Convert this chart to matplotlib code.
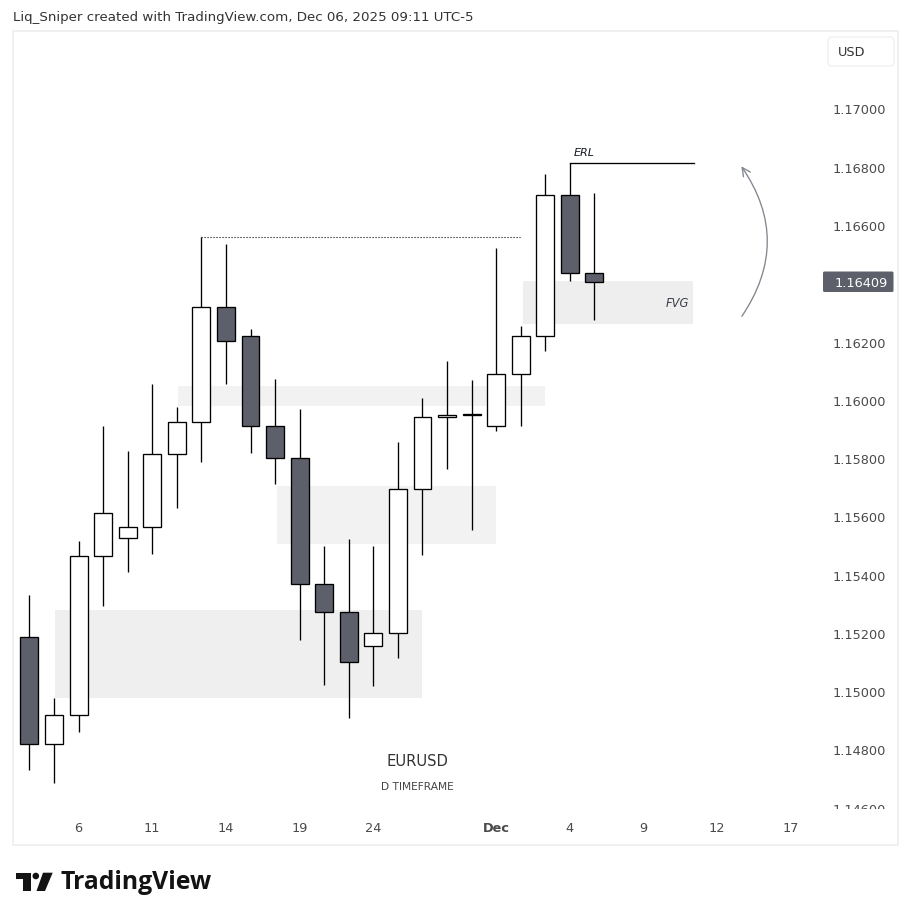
import numpy as np
import matplotlib
matplotlib.use('Agg')
import matplotlib.pyplot as plt
from matplotlib.patches import Rectangle, FancyBboxPatch, FancyArrowPatch, Polygon, Circle
from matplotlib.transforms import Bbox, ScaledTranslation

### candle data (one per day, index = position on the axis)
opens = [1.15192, 1.14823, 1.14924, 1.15470, 1.15532, 1.15569, 1.15820, 1.15930,
         1.16325, 1.16225, 1.15916, 1.15806, 1.15374, 1.15277, 1.15161, 1.15205,
         1.15700, 1.15947, 1.15953, 1.15916, 1.16095, 1.16225, 1.16709, 1.16441]
closes = [1.14823, 1.14924, 1.15470, 1.15617, 1.15569, 1.15820, 1.15930, 1.16325,
          1.16208, 1.15916, 1.15806, 1.15374, 1.15277, 1.15106, 1.15205, 1.15700,
          1.15947, 1.15954, 1.15957, 1.16095, 1.16225, 1.16709, 1.16441, 1.16409]
highs = [1.15336, 1.14980, 1.15522, 1.15914, 1.15831, 1.16061, 1.15979, 1.16563,
         1.16539, 1.16247, 1.16078, 1.15975, 1.15502, 1.15526, 1.15505, 1.15862,
         1.16010, 1.16137, 1.16075, 1.16528, 1.16260, 1.16779, 1.16819, 1.16717]
lows = [1.14734, 1.14689, 1.14864, 1.15297, 1.15413, 1.15475, 1.15633, 1.15791,
        1.16061, 1.15822, 1.15716, 1.15180, 1.15025, 1.14912, 1.15022, 1.15118,
        1.15472, 1.15767, 1.15558, 1.15898, 1.15915, 1.16172, 1.16413, 1.16281]

price_ticks = [1.146, 1.148, 1.150, 1.152, 1.154, 1.156, 1.158, 1.160, 1.162, 1.166, 1.168, 1.170]
date_pos = [2, 5, 8, 11, 14, 19, 22, 25, 28, 31]
date_labels = ['6', '11', '14', '19', '24', 'Dec', '4', '9', '12', '17']
last_price = 1.16409

# x0, x1, y0, y1, colour
zones = [(1.05, 15.98, 1.14983, 1.15285, '#efefef'),
         (10.08, 18.99, 1.15510, 1.15708, '#f2f2f2'),
         (6.05, 20.99, 1.15983, 1.16054, '#f2f2f2'),
         (20.09, 27.0, 1.16265, 1.16412, '#eeeeee')]

DARK = '#5d606b'
W, H = 912, 912

fig = plt.figure(figsize=(W/100, H/100), dpi=100, facecolor='white')
# main pane, placed in pixels
ax = fig.add_axes([14.1/W, (H-811)/H, 812/W, 777.5/H])
ov = fig.add_axes([0, 0, 1, 1], zorder=-1)   # page furniture in pixel coords
ov.set_xlim(0, W)
ov.set_ylim(H, 0)
ov.axis('off')
ax.patch.set_visible(False)

### zones
for x0, x1, y0, y1, c in zones:
    ax.add_patch(Rectangle((x0, y0), x1-x0, y1-y0, fc=c, ec='none', zorder=1))

### candles
x = np.arange(len(opens))
o = np.array(opens)
c = np.array(closes)
ax.vlines(x, lows, highs, color='black', lw=0.95, zorder=2)
body_cols = ['white' if cl >= op else DARK for op, cl in zip(opens, closes)]
ax.bar(x, np.abs(c-o), bottom=np.minimum(o, c), width=0.73, color=body_cols,
       edgecolor='black', linewidth=0.95, zorder=3)

### drawings
ax.plot([7, 19.97], [highs[7], highs[7]], color='black', lw=0.8, ls=(0, (1, 1.7)), zorder=2)
ax.plot([22, 27.04], [highs[22], highs[22]], color='black', lw=0.95, zorder=2)
ax.add_patch(FancyArrowPatch((29.0, 1.16292), (28.98, 1.16807), connectionstyle='arc3,rad=0.34',
                             arrowstyle='->,head_length=6,head_width=3', color='#84868f', lw=0.95,
                             shrinkA=0, shrinkB=0, zorder=2))
ax.text(22.17, 1.16855, 'ERL', style='italic', fontsize=8, color='#131722', va='center')
ax.text(26.84, 1.16340, 'FVG', style='italic', fontsize=8.3, color='#3c3f48', va='center', ha='right')
ax.text(15.78, 1.14768, 'EURUSD', fontsize=10.6, color='#333333', va='center', ha='center')
ax.text(15.78, 1.14678, 'D TIMEFRAME', fontsize=7.7, color='#444444', va='center', ha='center')

### axes
ax.set_xlim(-0.623, 32.43)
ax.set_ylim(1.14597, 1.172664)
for s in ax.spines.values():
    s.set_visible(False)
ax.yaxis.tick_right()
ax.set_yticks(price_ticks)
ax.set_yticklabels(['%.5f' % p for p in price_ticks])
ax.set_xticks(date_pos)
ax.set_xticklabels(date_labels)
ax.tick_params(axis='both', length=0, labelcolor='#4a4a4a', labelsize=9.3)
ax.tick_params(axis='y', pad=4.8)
ax.tick_params(axis='x', pad=8.2)
for lab in ax.get_xticklabels():
    if lab.get_text() == 'Dec':
        lab.set_fontweight('bold')
# nudge price labels up, lowest one gets cut off by the time axis
nudge = ScaledTranslation(0, 1.6/100, fig.dpi_scale_trans)
for lab in ax.get_yticklabels():
    lab.set_transform(lab.get_transform() + nudge)
    lab.set_clip_box(Bbox([[0, H-810], [W, H]]))
    lab.set_clip_on(True)

### page furniture
ov.add_patch(Rectangle((13, 32), 885.5, 814, fc='none', ec='#f0f0f0', lw=1.4))
ov.add_patch(FancyBboxPatch((828, 38), 66, 29, boxstyle='round,pad=0,rounding_size=4',
                            fc='white', ec='#f0f0f0', lw=1))
ov.text(838, 52.5, 'USD', fontsize=9.3, color='#333333', va='center')
ov.add_patch(FancyBboxPatch((823, 272.5), 70.5, 20.5, boxstyle='round,pad=0,rounding_size=1.5',
                            fc=DARK, ec='none', zorder=5))
ax.text(1+8.8/812, last_price, '%.5f' % last_price, transform=ax.get_yaxis_transform(),
        color='white', fontsize=9.3, va='center', zorder=6, clip_on=False)
ov.text(13, 17, 'Liq_Sniper created with TradingView.com, Dec 06, 2025 09:11 UTC-5',
        fontsize=9.65, color='#333333', va='center')

# TradingView logo
ov.add_patch(Polygon([(16, 873.7), (31, 873.7), (31, 892), (22.7, 892), (22.7, 880.3), (16, 880.3)], fc='#131313', ec='none'))
ov.add_patch(Circle((35.8, 877), 3.3, fc='#131313', ec='none'))
ov.add_patch(Polygon([(43, 873.7), (52.7, 873.7), (45, 892), (36.5, 892)], fc='#131313', ec='none'))
ov.text(61, 882.5, 'TradingView', family='Open Sans', fontweight='bold', fontsize=17.8, color='#131313', va='center')

fig.savefig('out.png', dpi=100, facecolor='white')
